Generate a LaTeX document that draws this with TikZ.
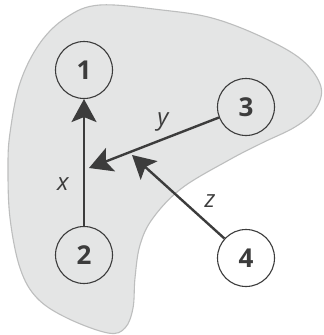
\documentclass[tikz,border=0pt]{standalone}
\usepackage{fontspec}
\setmainfont{Open Sans}
\usetikzlibrary{arrows.meta}
\definecolor{blobfill}{HTML}{E4E5E5}
\definecolor{blobline}{HTML}{BDBEBE}
\definecolor{ink}{HTML}{3C3C3C}
\tikzset{
  numnode/.style={circle, draw=ink, line width=1.1pt, minimum size=57pt, inner sep=0pt,
    font=\fontsize{26}{26}\selectfont\bfseries, text=ink},
  lbl/.style={font=\fontsize{24}{24}\selectfont\itshape, text=ink, inner sep=0pt},
  conn/.style={draw=ink, line width=2.4pt, -{Stealth[length=23pt, width=25pt, inset=5pt]}},
}
\begin{document}
\begin{tikzpicture}[x=1pt, y=-1pt]
\useasboundingbox (0,0) rectangle (324,335);
\fill[white] (0,0) rectangle (324,335);
\draw[blobline, fill=blobfill, line width=1.1pt] plot[smooth cycle, tension=0.6] coordinates {
 (100,5) (162,10) (212,18) (262,37) (302,60) (321,87) (315,110) (295,127) (262,143)
 (229,160) (182,188) (153,218) (140,245) (135,278) (133,308) (125,328) (108,333)
 (67,318) (37,298) (20,268) (10,218) (8,168) (10,133) (20,83) (40,43) (67,17)};
\node[numnode] (n1) at (84,70) {1};
\node[numnode] (n2) at (84,255) {2};
\node[numnode] (n3) at (246,107) {3};
\node[numnode] (n4) at (246,258) {4};
\coordinate (ytip) at (89,168);
\coordinate (ztip) at (132,155);
\draw[conn] (n2) -- (n1);
\draw[conn] (n3) -- (ytip);
\draw[conn] (n4) -- (ztip);
\node[lbl] (lx) at (63,184) {x};
\node[lbl] (ly) at (163,122) {y};
\node[lbl] (lz) at (210,201) {z};
\end{tikzpicture}
\end{document}
